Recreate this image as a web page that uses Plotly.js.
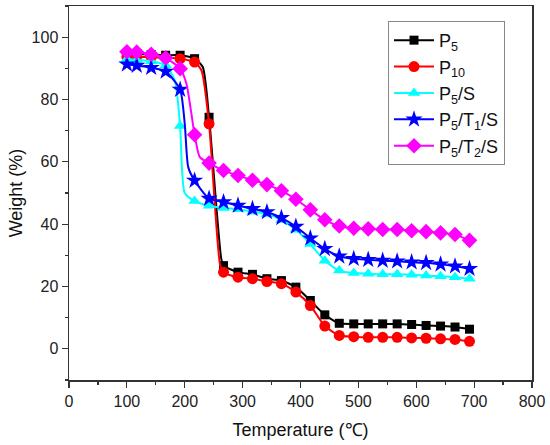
<!DOCTYPE html>
<html>
<head>
<meta charset="utf-8">
<script src="https://cdn.plot.ly/plotly-3.0.1.min.js"></script>
<style>html,body{margin:0;padding:0;background:#fff;}#chart{width:550px;height:445px;}</style>
</head>
<body>
<div id="chart"></div>
<script>
// Marker temperatures (°C)
const temps = [100,117,142,167,192,217,242,267,292,317,342,367,392,417,442,467,492,517,542,567,592,617,642,667,692];

// Weight (%) at marker temperatures
const p5   = [94.8,94.6,94.4,94.2,94.2,93.1,74.3,26.7,24.6,23.9,22.5,21.9,19.8,15.5,10.9,8.2,8.0,8.0,8.0,8.0,7.8,7.5,7.3,7.0,6.3];
const p10  = [93.8,93.7,93.6,93.4,93.1,92.0,72.2,24.6,23.0,22.5,21.6,20.9,18.2,13.9,7.3,4.3,3.9,3.7,3.7,3.7,3.5,3.4,3.2,3.0,2.4];
const p5s  = [93.0,92.7,92.3,91.0,71.5,47.4,45.9,45.2,44.8,44.0,43.3,41.3,38.2,33.6,28.3,25.1,24.3,24.1,23.9,23.9,23.8,23.5,23.3,23.0,22.5];
const p5t1s= [91.3,90.9,90.2,89.0,83.2,54.0,48.2,47.1,46.0,44.9,43.9,42.0,39.2,35.5,32.1,29.7,28.9,28.6,28.3,28.1,27.8,27.6,27.1,26.5,25.7];
const p5t2s= [95.3,95.2,94.5,93.3,89.9,68.7,59.6,57.2,55.6,54.1,52.7,50.7,48.0,44.6,41.4,39.4,38.7,38.5,38.3,38.3,37.9,37.6,37.2,36.7,34.8];

// Extra curve points at the knees of the steep drops
const p5KneeT = [231,263],      p5KneeW = [90.5,29];
const p10KneeT = [229,261],     p10KneeW = [89.3,27];
const p5sKneeT = [183,200],     p5sKneeW = [86,50];
const p5t1sKneeT = [200,206],   p5t1sKneeW = [72.2,58.3];
const p5t2sKneeT = [203,226],   p5t2sKneeW = [85,61.5];

const names = ['P<sub>5</sub>','P<sub>10</sub>','P<sub>5</sub>/S','P<sub>5</sub>/T<sub>1</sub>/S','P<sub>5</sub>/T<sub>2</sub>/S'];
const seriesW = [p5,p10,p5s,p5t1s,p5t2s];
const kneesT = [p5KneeT,p10KneeT,p5sKneeT,p5t1sKneeT,p5t2sKneeT];
const kneesW = [p5KneeW,p10KneeW,p5sKneeW,p5t1sKneeW,p5t2sKneeW];
const colors = ['#000000','#ff0000','#00ffff','#0000ff','#ff00ff'];
const symbols = ['square','circle','triangle-up','star','diamond'];
const sizes = [9,11,11,13,12];

function mergeCurve(t, w, kt, kw){
  const pts = t.map((x,i)=>[x,w[i]]).concat(kt.map((x,i)=>[x,kw[i]]));
  pts.sort((a,b)=>a[0]-b[0]);
  return {x: pts.map(p=>p[0]), y: pts.map(p=>p[1])};
}

const traces = [];
seriesW.forEach((w,i)=>{
  const c = mergeCurve(temps, w, kneesT[i], kneesW[i]);
  traces.push({x:c.x, y:c.y, type:'scatter', mode:'lines', showlegend:false, hoverinfo:'skip',
    line:{color:colors[i], width:2, shape:'spline', smoothing:0.6}});
  traces.push({x:temps, y:w, type:'scatter', mode:'markers', showlegend:false,
    marker:{color:colors[i], symbol:symbols[i], size:sizes[i], line:{width:0}}});
});
// legend entries
seriesW.forEach((w,i)=>{
  traces.push({x:[null], y:[null], type:'scatter', mode:'lines+markers', name:names[i],
    line:{color:colors[i], width:2},
    marker:{color:colors[i], symbol:symbols[i], size:sizes[i], line:{width:0}}});
});

const axisCommon = {
  showgrid:false, zeroline:false, showline:true, linecolor:'#333', linewidth:1.5,
  mirror:true, ticks:'outside', ticklen:6, tickwidth:1.2, tickcolor:'#333',
  tickfont:{family:'Liberation Sans, Arial, sans-serif', size:16, color:'#222'}
};

const layout = {
  width:550, height:445,
  margin:{l:69, r:18, t:6, b:65},
  paper_bgcolor:'#fff', plot_bgcolor:'#fff',
  font:{family:'Liberation Sans, Arial, sans-serif', color:'#222'},
  xaxis: Object.assign({}, axisCommon, {
    range:[0,800], tickvals:[0,100,200,300,400,500,600,700,800],
    minor:{dtick:50, ticks:'outside', ticklen:3, tickwidth:1.2, tickcolor:'#333'},
    title:{text:'Temperature (℃)', font:{size:18, family:'Liberation Sans, Arial, sans-serif', color:'#111'}, standoff:14}
  }),
  yaxis: Object.assign({}, axisCommon, {
    range:[-10,110], tickvals:[0,20,40,60,80,100],
    minor:{dtick:10, ticks:'outside', ticklen:3, tickwidth:1.2, tickcolor:'#333'},
    title:{text:'Weight (%)', font:{size:18, family:'Liberation Sans, Arial, sans-serif', color:'#111'}, standoff:4}
  }),
  legend:{x:0.689, y:0.96, xanchor:'left', yanchor:'top',
    bordercolor:'#888', borderwidth:1, bgcolor:'#fff',
    font:{size:18, family:'Liberation Sans, Arial, sans-serif', color:'#111'},
    tracegroupgap:0, itemwidth:40},
  showlegend:true
};

Plotly.newPlot('chart', traces, layout, {displayModeBar:false, staticPlot:true});
</script>
</body>
</html>
